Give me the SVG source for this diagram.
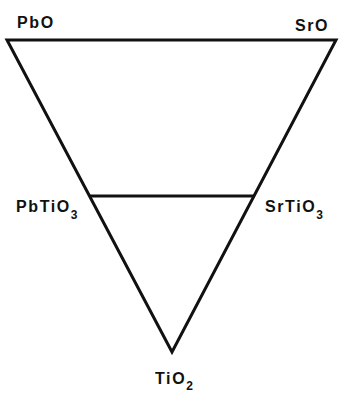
<svg xmlns="http://www.w3.org/2000/svg" width="341" height="396" viewBox="0 0 341 396">
<style>
.ln{stroke:#111;stroke-width:3;fill:none;stroke-linejoin:miter}
.lb{font-family:"Liberation Sans",Arial,sans-serif;font-weight:bold;font-size:16px;fill:#111;letter-spacing:1.6px}
.sb{font-size:12px}
</style>
<rect width="341" height="396" fill="#fff"/>
<g id="connectors">
<polygon class="ln" points="7,40 336,40 172,352"/>
<line class="ln" x1="90" y1="196" x2="255" y2="196"/>
</g>
<g id="PbO"><text class="lb" x="17" y="28">PbO</text></g>
<g id="SrO"><text class="lb" x="295" y="31">SrO</text></g>
<g id="PbTiO3"><text class="lb" x="16" y="212">PbTiO<tspan class="sb" dy="7">3</tspan></text></g>
<g id="SrTiO3"><text class="lb" x="265" y="212">SrTiO<tspan class="sb" dy="7">3</tspan></text></g>
<g id="TiO2"><text class="lb" x="155" y="384">TiO<tspan class="sb" dy="6">2</tspan></text></g>
</svg>
